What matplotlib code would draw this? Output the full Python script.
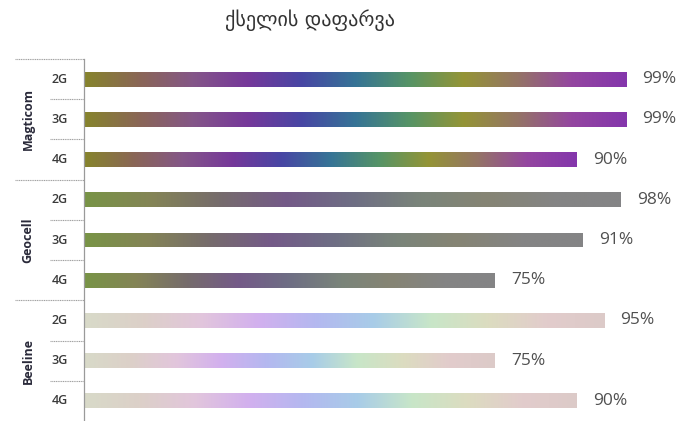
import numpy as np
import matplotlib
matplotlib.use("Agg")
import matplotlib.pyplot as plt
from matplotlib.colors import LinearSegmentedColormap
from matplotlib import transforms

title = "ქსელის დაფარვა"
operators = ["Magticom", "Geocell", "Beeline"]
techs = ["2G", "3G", "4G"]
coverage = [99, 99, 90, 98, 91, 75, 95, 75, 90]

# colour stops for each operator's gradient bars
stops = {
    "Magticom": ["#86842c", "#8a6656", "#845688", "#76389a", "#4846a4", "#367496",
                 "#569466", "#949436", "#947466", "#9446a0", "#8436ac"],
    "Geocell": ["#789446", "#848456", "#766c6c", "#745a88", "#6e6e84", "#7a847a",
                "#868474", "#848484", "#848486"],
    "Beeline": ["#d8dac8", "#dcd0c8", "#e2c6dc", "#d2b0ee", "#b4b8f0", "#a8cce8",
                "#c8e6c8", "#dcdcc0", "#e2cccc", "#dccac8"],
}

fig = plt.figure(figsize=(6.78, 4.21), dpi=100)
W, H = 678, 421
x0, x1, ytop = 84, 631.5, 59
ax = fig.add_axes([x0 / W, 0, (x1 - x0) / W, (H - ytop) / H])

n = len(coverage)
ypos = np.arange(n)

grad = np.linspace(0, 1, 256).reshape(1, -1)
bars = ax.barh(ypos, coverage, height=0.37, color="none", edgecolor="none")
for i, b in enumerate(bars):
    op = operators[i // 3]
    cmap = LinearSegmentedColormap.from_list(op, stops[op])
    im = ax.imshow(grad, cmap=cmap, aspect="auto",
                   extent=[b.get_x(), b.get_x() + b.get_width(),
                           b.get_y() + b.get_height(), b.get_y()],
                   interpolation="bilinear")
    im.set_clip_path(b)
    ax.text(coverage[i] + 3, ypos[i], f"{coverage[i]}%", va="center", ha="left",
            fontsize=12.5, color="#505050", family="Open Sans", clip_on=False)

ax.set_xlim(0, 100)
ax.set_ylim(n - 0.5, -0.5)

for s in ["top", "right", "bottom"]:
    ax.spines[s].set_visible(False)
ax.spines["left"].set_color("#9a9a9a")
ax.spines["left"].set_linewidth(0.9)
ax.set_xticks([])
ax.set_yticks([])

tr = transforms.blended_transform_factory(ax.transAxes, ax.transData)
for k in range(n):
    edge = k - 0.5
    start = 15 if k % 3 == 0 else 50
    ax.plot([(start - x0) / (x1 - x0), 0], [edge, edge], color="#a0a0a0", lw=0.8,
            ls=(0, (1, 0.6)), transform=tr, clip_on=False)
    ax.text((60 - x0) / (x1 - x0), ypos[k], techs[k % 3], transform=tr, ha="center",
            va="center", fontsize=9, fontweight="semibold", color="#3a3a3a",
            family="Open Sans")

for g, op in enumerate(operators):
    ax.text((28 - x0) / (x1 - x0), g * 3 + 1, op, transform=tr, ha="center",
            va="center", rotation=90, fontsize=9, fontweight="bold", color="#2a2a3a",
            family="Open Sans")

fig.text(310 / W, 1 - 20 / H, title, ha="center", va="center", fontsize=14.5,
         color="#333333", family="DejaVu Sans")

fig.savefig("out.png", dpi=100)
